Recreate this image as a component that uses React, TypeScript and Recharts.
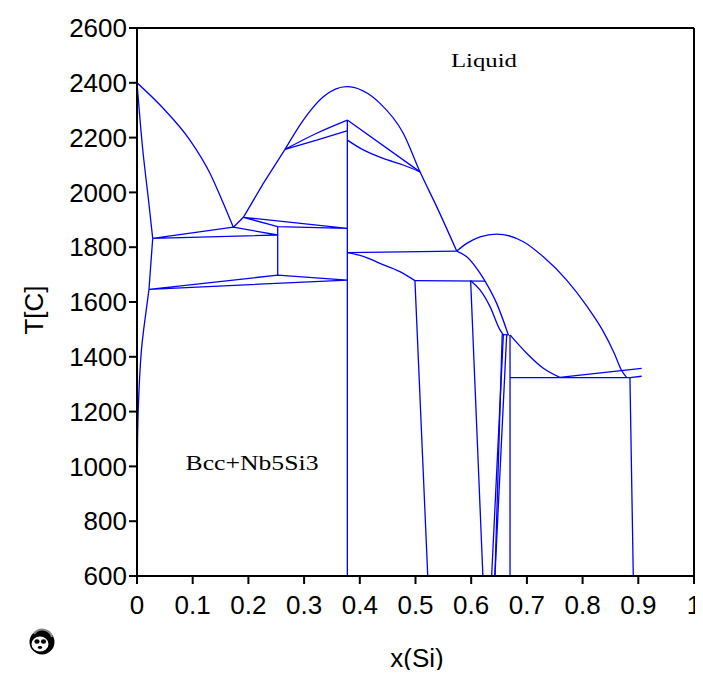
import React from "react";
import { LineChart, Line, XAxis, YAxis, ReferenceLine, Label } from "recharts";

// phase boundaries, [x(Si), T in C]
const bccSolidusHigh = [[0, 2400], [0.004, 2300], [0.011, 2143], [0.02, 1984], [0.0282, 1832]];
const bccSolidusMid = [[0.0282, 1832], [0.0215, 1646]];
const bccSolvus = [[0.0215, 1646], [0.012, 1500], [0.007, 1400], [0.003, 1250], [0.001, 1100], [0, 900], [0, 600]];
const liquidusNb = [[0, 2400], [0.047, 2307], [0.095, 2191], [0.131, 2070], [0.155, 1960], [0.173, 1873]];
const eutecticBcc = [[0.0282, 1832], [0.173, 1873], [0.2526, 1844.5], [0.0282, 1832]];
const liquidusNb3Si = [[0.173, 1873], [0.191, 1909], [0.2268, 2033], [0.2657, 2157]];
const liquidusNb5Si3 = [[0.2657, 2157], [0.2986, 2264], [0.3345, 2349], [0.3765, 2386], [0.4363, 2325], [0.478, 2216], [0.5081, 2075], [0.538, 1948], [0.574, 1786]];
const peritecticNb3Si = [[0.191, 1909], [0.2526, 1875], [0.3776, 1869], [0.191, 1909]];
const nb3Si = [[0.2526, 1875], [0.2526, 1698]];
const eutectoidNb3Si = [[0.0215, 1646], [0.2526, 1698], [0.3776, 1680], [0.0215, 1646]];
const betaLeftUpper = [[0.2657, 2157], [0.3226, 2216], [0.3776, 2264]];
const betaLeftLower = [[0.2657, 2157], [0.3226, 2191], [0.3776, 2225]];
const nb5Si3 = [[0.3776, 2264], [0.3776, 600]];
const betaRightUpper = [[0.3776, 2264], [0.5081, 2075]];
const betaRightLower = [[0.3776, 2191], [0.4063, 2155], [0.442, 2124], [0.478, 2100], [0.5081, 2075]];
const tie1786 = [[0.3776, 1780], [0.574, 1786]];
const curveKL = [[0.3776, 1780], [0.41, 1764], [0.436, 1741], [0.472, 1711], [0.499, 1678]];
const tie1678 = [[0.499, 1678], [0.625, 1676]];
const lineL = [[0.499, 1678], [0.522, 600]];
const lineN = [[0.599, 1678], [0.621, 600]];
const liquidusJM = [[0.574, 1786], [0.592, 1765], [0.6158, 1705], [0.6248, 1676]];
const curveM = [[0.6248, 1676], [0.6457, 1595], [0.6636, 1498], [0.6666, 1480]];
const curveN = [[0.599, 1678], [0.6158, 1644], [0.6338, 1583], [0.6517, 1498], [0.6577, 1480]];
const tie1480 = [[0.655, 1481], [0.672, 1480]];
const dropA = [[0.6577, 1480], [0.6367, 600]];
const dropB = [[0.6637, 1480], [0.6426, 600]];
const dropC = [[0.6557, 1480], [0.6426, 600]];
const nbSi2 = [[0.6697, 1480], [0.6697, 600]];
const liquidusNbSi2 = [[0.6697, 1480], [0.6996, 1413], [0.7295, 1358], [0.759, 1325]];
const eutectic1324 = [[0.6697, 1324], [0.885, 1324]];
const rightUpper = [[0.759, 1325], [0.906, 1358]];
const rightLower = [[0.885, 1324], [0.906, 1329]];
const liquidusSi = [[0.574, 1786], [0.592, 1814], [0.616, 1838], [0.6457, 1848], [0.6936, 1820], [0.7295, 1765], [0.7714, 1680], [0.8073, 1586], [0.835, 1500], [0.857, 1412], [0.87, 1350], [0.879, 1325]];
const siSide = [[0.885, 1324], [0.891, 600]];

const xTicks = [0, 0.1, 0.2, 0.3, 0.4, 0.5, 0.6, 0.7, 0.8, 0.9, 1];
const yTicks = [600, 800, 1000, 1200, 1400, 1600, 1800, 2000, 2200, 2400, 2600];

const pts = (a: number[][]) => a.map(([x, T]) => ({ x, T }));

type Curve = "linear" | "natural" | "monotone";

const segments: [number[][], Curve][] = [
  [bccSolidusHigh, "natural"],
  [bccSolidusMid, "linear"],
  [bccSolvus, "natural"],
  [liquidusNb, "monotone"],
  [eutecticBcc, "linear"],
  [liquidusNb3Si, "linear"],
  [liquidusNb5Si3, "monotone"],
  [peritecticNb3Si, "linear"],
  [nb3Si, "linear"],
  [eutectoidNb3Si, "linear"],
  [betaLeftUpper, "monotone"],
  [betaLeftLower, "monotone"],
  [nb5Si3, "linear"],
  [betaRightUpper, "linear"],
  [betaRightLower, "monotone"],
  [tie1786, "linear"],
  [curveKL, "monotone"],
  [tie1678, "linear"],
  [lineL, "linear"],
  [lineN, "linear"],
  [liquidusJM, "monotone"],
  [curveM, "monotone"],
  [curveN, "monotone"],
  [tie1480, "linear"],
  [dropA, "linear"],
  [dropB, "linear"],
  [dropC, "linear"],
  [nbSi2, "linear"],
  [liquidusNbSi2, "monotone"],
  [eutectic1324, "linear"],
  [rightUpper, "linear"],
  [rightLower, "linear"],
  [liquidusSi, "monotone"],
  [siSide, "linear"],
];

const tickStyle = { fill: "#000", fontSize: 26, fontFamily: "Liberation Sans, Arial, sans-serif" };

const Panda = () => (
  <svg width={28} height={28} viewBox="0 0 28 28" style={{ position: "absolute", left: 20, top: 620 }}>
    <circle cx={14} cy={14} r={12.5} fill="#000" />
    <path d="M6 6 A10 10 0 0 1 24 9" stroke="#888" strokeWidth={2} fill="none" />
    <ellipse cx={12} cy={16} rx={8.5} ry={7.5} fill="#fff" />
    <ellipse cx={9} cy={13.5} rx={2.6} ry={2.2} fill="#000" />
    <ellipse cx={15.5} cy={13.5} rx={2.6} ry={2.2} fill="#000" />
    <ellipse cx={12} cy={19.5} rx={2.2} ry={1.4} fill="#000" />
  </svg>
);

export default function App() {
  return (
    <div style={{ position: "relative", width: 695, height: 670, marginBottom: -8, overflow: "visible" }}>
      <LineChart
        width={695}
        height={670}
        margin={{ top: 20, right: 9, bottom: 72, left: 0 }}
        style={{ overflow: "visible" }}
      >
        <XAxis
          dataKey="x"
          type="number"
          domain={[0, 1]}
          ticks={xTicks}
          tickFormatter={(v: number) => String(v)}
          tick={tickStyle}
          tickSize={8}
          tickMargin={12}
          height={30}
          axisLine={{ stroke: "#000", strokeWidth: 2 }}
          tickLine={{ stroke: "#000", strokeWidth: 2 }}
          allowDataOverflow
        >
          <Label
            content={() => (
              <text x={409} y={659} textAnchor="middle" fontSize={26} fontFamily="Liberation Sans, Arial, sans-serif" fill="#000">
                x(Si)
              </text>
            )}
          />
        </XAxis>
        <YAxis
          type="number"
          domain={[600, 2600]}
          ticks={yTicks}
          tick={tickStyle}
          tickSize={8}
          tickMargin={2}
          width={129}
          axisLine={{ stroke: "#000", strokeWidth: 2 }}
          tickLine={{ stroke: "#000", strokeWidth: 2 }}
          allowDataOverflow
        >
          <Label
            content={() => (
              <text
                x={26}
                y={302}
                transform="rotate(-90 26 302)"
                textAnchor="middle"
                dominantBaseline="central"
                fontSize={26}
                fontFamily="Liberation Sans, Arial, sans-serif"
                fill="#000"
              >
                T[C]
              </text>
            )}
          />
        </YAxis>
        <ReferenceLine y={2600} stroke="#000" strokeWidth={2} />
        <ReferenceLine x={1} stroke="#000" strokeWidth={2} />
        {segments.map(([seg, curve], i) => (
          <Line
            key={i}
            data={pts(seg)}
            dataKey="T"
            type={curve}
            stroke="#0000ff"
            strokeWidth={1.3}
            dot={false}
            activeDot={false}
            isAnimationActive={false}
          />
        ))}
        <ReferenceLine
          x={0.476}
          stroke="none"
          label={() => (
            <text x={476} y={59} textAnchor="middle" fontSize={19} textLength={66} lengthAdjust="spacingAndGlyphs" fontFamily="Liberation Serif, Times New Roman, serif" fill="#000">
              Liquid
            </text>
          )}
        />
        <ReferenceLine
          x={0.2}
          stroke="none"
          label={() => (
            <text x={244} y={462} textAnchor="middle" fontSize={22} textLength={133} lengthAdjust="spacingAndGlyphs" fontFamily="Liberation Serif, Times New Roman, serif" fill="#000">
              Bcc+Nb5Si3
            </text>
          )}
        />
      </LineChart>
      <Panda />
    </div>
  );
}
